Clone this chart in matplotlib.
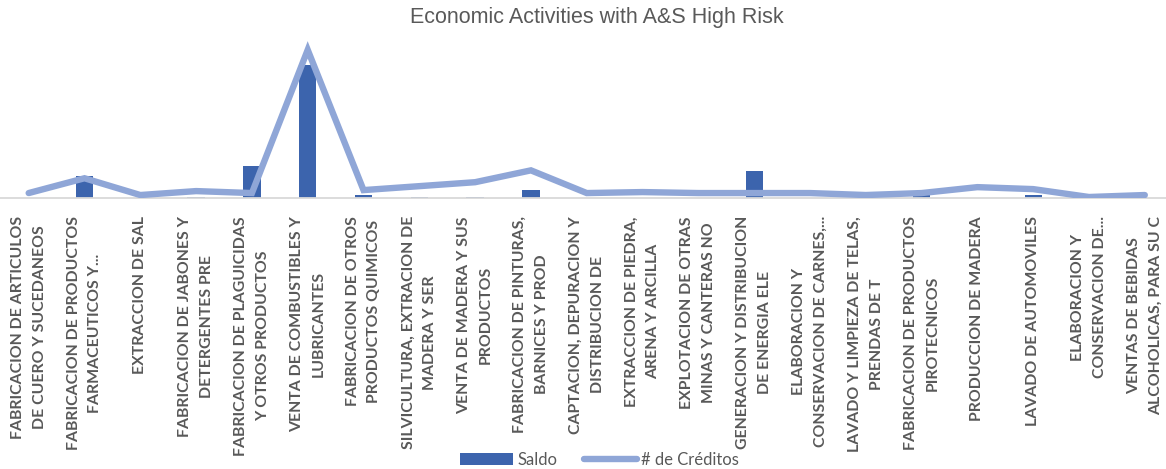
import matplotlib
matplotlib.use("Agg")
import matplotlib.pyplot as plt
from matplotlib.patches import Patch
from matplotlib.lines import Line2D

categories = [
    "FABRICACION DE ARTICULOS\nDE CUERO Y SUCEDANEOS",
    "FABRICACION DE PRODUCTOS\nFARMACEUTICOS Y...",
    "EXTRACCION DE SAL",
    "FABRICACION DE JABONES Y\nDETERGENTES PRE",
    "FABRICACION DE PLAGUICIDAS\nY OTROS PRODUCTOS",
    "VENTA DE COMBUSTIBLES Y\nLUBRICANTES",
    "FABRICACION DE OTROS\nPRODUCTOS QUIMICOS",
    "SILVICULTURA, EXTRACION DE\nMADERA Y SER",
    "VENTA DE MADERA Y SUS\nPRODUCTOS",
    "FABRICACION DE PINTURAS,\nBARNICES Y PROD",
    "CAPTACION, DEPURACION Y\nDISTRIBUCION DE",
    "EXTRACCION DE PIEDRA,\nARENA Y ARCILLA",
    "EXPLOTACION DE OTRAS\nMINAS Y CANTERAS NO",
    "GENERACION Y DISTRIBUCION\nDE ENERGIA ELE",
    "ELABORACION Y\nCONSERVACION DE CARNES,...",
    "LAVADO Y LIMPIEZA DE TELAS,\nPRENDAS DE T",
    "FABRICACION DE PRODUCTOS\nPIROTECNICOS",
    "PRODUCCION DE MADERA",
    "LAVADO DE AUTOMOVILES",
    "ELABORACION Y\nCONSERVACION DE...",
    "VENTAS DE BEBIDAS\nALCOHOLICAS, PARA SU C",
]

saldo = [0, 167, 0, 8, 243, 1010, 23, 11, 4, 61, 0, 0, 0, 205, 0, 0, 23, 0, 23, 0, 0]
creditos = [5, 20, 3, 7, 5, 150, 8, 12, 16, 28, 5, 6, 5, 5, 5, 3, 5, 11, 9, 1, 3]

title = "Economic Activities with A&S High Risk"
bar_color = "#3C64AD"
line_color = "#8FA6D7"
text_color = "#595959"

W, H = 1166, 469
fig = plt.figure(figsize=(W / 100, H / 100), dpi=100)

ax_bottom, ax_top = 198, 40
ax = fig.add_axes([0, 1 - ax_bottom / H, 1, (ax_bottom - ax_top) / H])
x = list(range(len(categories)))
ax.bar(x, saldo, width=0.31, color=bar_color, zorder=2)
ax.set_ylim(0, 1200)
ax.set_xlim(-0.514, 20.38)

ax2 = ax.twinx()
ax2.plot(x, creditos, color=line_color, lw=4.6, solid_capstyle="round",
         solid_joinstyle="miter", zorder=3)
ax2.set_ylim(0, 160)

for a in (ax, ax2):
    for s in ("top", "left", "right"):
        a.spines[s].set_visible(False)
    a.set_yticks([])
ax2.spines["bottom"].set_visible(False)
ax.spines["bottom"].set_color("#D9D9D9")
ax.spines["bottom"].set_linewidth(1.3)

ax.set_xticks(x)
ax.set_xticklabels(categories, rotation=90, fontsize=11.4, fontweight="bold",
                   color=text_color, family="Lato", linespacing=1.7)
for lbl in ax.get_xticklabels():
    lbl.set_multialignment("center")
ax.tick_params(axis="x", length=0, pad=13)
ax.set_facecolor("none")
ax2.set_facecolor("none")

fig.text(597 / W, 1 - 18 / H, title, ha="center", va="center",
         fontsize=15.5, color=text_color, family="Liberation Sans")

handles = [Patch(facecolor=bar_color, edgecolor="none"),
           Line2D([], [], color=line_color, lw=4.6, solid_capstyle="round")]
fig.legend(handles, ["Saldo", "# de Créditos"], loc="center",
           bbox_to_anchor=(0.514, 1 - 460 / H), ncol=2, frameon=False,
           prop={"family": "Lato", "size": 12}, labelcolor=text_color,
           handlelength=3.2, handleheight=0.75, handletextpad=0.25,
           columnspacing=1.6)

fig.savefig("out.png", dpi=100)
